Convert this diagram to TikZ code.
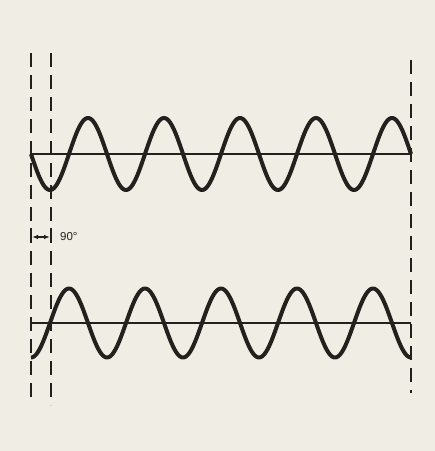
\documentclass[tikz,border=0pt]{standalone}
\usepackage{fontspec}
\setmainfont{Liberation Sans}
\usetikzlibrary{arrows.meta}
\definecolor{paper}{RGB}{240,238,228}
\definecolor{ink}{RGB}{35,33,30}
\tikzset{
  wave/.style={draw=ink, line width=4pt, line join=round},
  axisline/.style={draw=ink, line width=1.1pt},
  guide/.style={draw=ink, line width=2pt, dash pattern=on 14pt off 8pt},
  tick/.style={draw=ink, line width=2pt},
  dim/.style={draw=ink, line width=1.2pt, {Latex[length=6pt,width=4.5pt]}-{Latex[length=6pt,width=4.5pt]}},
  lbl/.style={text=ink, font=\fontsize{11.5}{13}\selectfont, inner sep=0pt, anchor=west}
}
\begin{document}
\begin{tikzpicture}[x=1pt, y=-1pt]
\fill[paper] (0,0) rectangle (435,451);
\useasboundingbox (0,0) rectangle (435,451);
% guide coordinates
\coordinate (LT) at (31,53);
\coordinate (LB) at (31,403);
\coordinate (MT) at (51,53);
\coordinate (MB) at (51,405);
\coordinate (RT) at (411,60);
\coordinate (RB) at (411,393);
% axes
\coordinate (A1L) at (31,154);
\coordinate (A1R) at (411,154);
\coordinate (A2L) at (31,323);
\coordinate (A2R) at (411,323);
\draw[axisline] (A1L) -- (A1R);
\draw[axisline] (A2L) -- (A2R);
% dashed guides
\draw[guide] (LT) -- (LB);
\draw[guide] (MT) -- (MB);
\draw[guide] (RT) -- (RB);
% waves
\draw[wave] plot[domain=31:411, samples=400] (\x, {154+36*sin((\x-31)/76*360)});
\draw[wave] plot[domain=31:411, samples=400] (\x, {323+34.5*cos((\x-31)/76*360)});
% 90 degree marker
\coordinate (D1) at (32,237);
\coordinate (D2) at (50,237);
\coordinate (T1a) at (31,228);
\coordinate (T1b) at (31,243);
\coordinate (T2a) at (51,228);
\coordinate (T2b) at (51,243);
\draw[tick] (T1a) -- (T1b);
\draw[tick] (T2a) -- (T2b);
\draw[dim] (D1) -- (D2);
\node[lbl] (deg) at (60,237) {90°};
\end{tikzpicture}
\end{document}
